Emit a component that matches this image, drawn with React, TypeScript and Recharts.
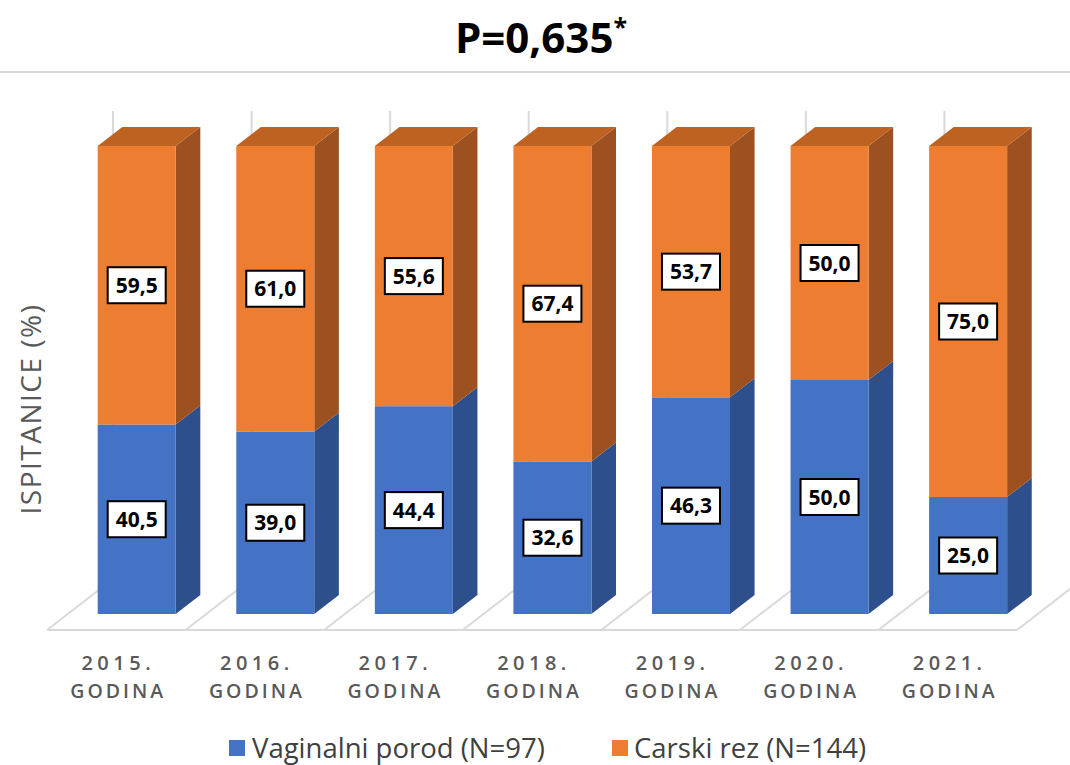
import React from 'react';
import { BarChart, Bar, XAxis, YAxis, CartesianGrid, LabelList } from 'recharts';

// ---- data ----
const years = ['2015.', '2016.', '2017.', '2018.', '2019.', '2020.', '2021.'];
const yearWord = 'GODINA';
const vaginal = [40.5, 39.0, 44.4, 32.6, 46.3, 50.0, 25.0];
const cesarean = [59.5, 61.0, 55.6, 67.4, 53.7, 50.0, 75.0];
const seriesNames = ['Vaginalni porod (N=97)', 'Carski rez (N=144)'];
const titleText = 'P=0,635';
const yLabelText = 'ISPITANICE (%)';

const data = years.map((y, i) => ({ year: y, vaginal: vaginal[i], cesarean: cesarean[i] }));

// ---- style constants ----
const W = 1070;
const H = 765;
const FONT = "'Open Sans', 'DejaVu Sans', sans-serif";
const BLUE = { front: '#4472C4', side: '#2D4F8B', top: '#3A62AA' };
const ORANGE = { front: '#ED7D31', side: '#9D5120', top: '#BE6222' };
const GRID = '#D9D9D9';
const FLOOR_DX = 66;
const FLOOR_DY = 51;
const BAR_OFF_X = 20.7;
const BAR_OFF_Y = 16;
const BAR_DX = 24.6;
const BAR_DY = 19;

const make3DShape = (c: { front: string; side: string; top: string }, drawTop: boolean) => (props: any) => {
  const { x, y, width, height } = props;
  if (width == null || height == null) return null;
  const fx = x + BAR_OFF_X;
  const fy = y - BAR_OFF_Y;
  const side = `${fx + width},${fy} ${fx + width + BAR_DX},${fy - BAR_DY} ${fx + width + BAR_DX},${fy + height - BAR_DY} ${fx + width},${fy + height}`;
  const top = `${fx},${fy} ${fx + BAR_DX},${fy - BAR_DY} ${fx + width + BAR_DX},${fy - BAR_DY} ${fx + width},${fy}`;
  return (
    <g>
      <polygon points={side} fill={c.side} />
      {drawTop && <polygon points={top} fill={c.top} />}
      <rect x={fx} y={fy} width={width} height={height} fill={c.front} />
    </g>
  );
};

const BlueShape = make3DShape(BLUE, false);
const OrangeShape = make3DShape(ORANGE, true);

const renderBoxLabel = (props: any) => {
  const { x, y, width, height, value } = props;
  const cx = x + width / 2 + BAR_OFF_X;
  const cy = y + height / 2 - BAR_OFF_Y;
  const txt = Number(value).toFixed(1).replace('.', ',');
  return (
    <g>
      <rect x={cx - 29} y={cy - 18} width={58} height={36} fill="#FFFFFF" stroke="#000000" strokeWidth={2} />
      <text x={cx} y={cy + 7.5} textAnchor="middle" fontFamily={FONT} fontWeight={700} fontSize={21} fill="#000000">
        {txt}
      </text>
    </g>
  );
};

const YearTick = (props: any) => {
  const { x, y, payload } = props;
  return (
    <g>
      <text x={x + 2} y={y + 32} textAnchor="middle" fontFamily={FONT} fontWeight={600} fontSize={20} letterSpacing={4.5} fill="#595959">
        {payload.value}
      </text>
      <text x={x + 2} y={y + 60} textAnchor="middle" fontFamily={FONT} fontWeight={600} fontSize={19.5} letterSpacing={3} fill="#595959">
        {yearWord}
      </text>
    </g>
  );
};

const FloorLine = (p: any) => {
  const { x1, y1, y2 } = p;
  return (
    <g key={p.key ?? `v-${x1}`}>
      <line x1={x1} y1={y2} x2={x1 + FLOOR_DX} y2={y2 - FLOOR_DY} stroke={GRID} strokeWidth={2} />
      <line x1={x1 + FLOOR_DX} y1={y2 - FLOOR_DY} x2={x1 + FLOOR_DX} y2={y1 - FLOOR_DY} stroke={GRID} strokeWidth={2} />
    </g>
  );
};

export default function App() {
  return (
    <div style={{ position: 'absolute', left: 0, top: 0, width: W, height: H, background: '#FFFFFF' }}>
      <BarChart
        width={W}
        height={H}
        data={data}
        margin={{ top: 162, right: 53, bottom: 75, left: 47 }}
        barSize={78}
      >
        <CartesianGrid
          stroke={GRID}
          strokeWidth={2}
          horizontalCoordinatesGenerator={({ offset }: any) => [offset.top + offset.height]}
          verticalCoordinatesGenerator={({ offset }: any) =>
            Array.from({ length: years.length + 1 }, (_, k) => offset.left + (k * offset.width) / years.length)
          }
          vertical={FloorLine as any}
        />
        <XAxis dataKey="year" height={60} axisLine={false} tickLine={false} interval={0} tick={<YearTick />} />
        <YAxis hide domain={[0, 100]} />
        <Bar dataKey="vaginal" stackId="a" shape={BlueShape} isAnimationActive={false}>
          <LabelList dataKey="vaginal" content={renderBoxLabel} />
        </Bar>
        <Bar dataKey="cesarean" stackId="a" shape={OrangeShape} isAnimationActive={false}>
          <LabelList dataKey="cesarean" content={renderBoxLabel} />
        </Bar>
      </BarChart>
      <svg width={W} height={H} style={{ position: 'absolute', left: 0, top: 0, pointerEvents: 'none' }}>
        <text x={541} y={53} textAnchor="middle" fontFamily={FONT} fontWeight={700} fontSize={42} fill="#000000">
          {titleText}
          <tspan fontSize={25} dy={-17}>*</tspan>
        </text>
        <line x1={0} y1={72} x2={W} y2={72} stroke={GRID} strokeWidth={2} />
        <text
          x={41}
          y={409}
          transform="rotate(-90 41 409)"
          textAnchor="middle"
          fontFamily={FONT}
          fontSize={28}
          letterSpacing={1.5}
          fill="#595959"
        >
          {yLabelText}
        </text>
        <rect x={229} y={740} width={16} height={16} fill={BLUE.front} />
        <text x={252} y={758} fontFamily={FONT} fontSize={27.5} fill="#404040">{seriesNames[0]}</text>
        <rect x={612} y={740} width={16} height={16} fill={ORANGE.front} />
        <text x={634} y={758} fontFamily={FONT} fontSize={27.5} fill="#404040">{seriesNames[1]}</text>
      </svg>
    </div>
  );
}
